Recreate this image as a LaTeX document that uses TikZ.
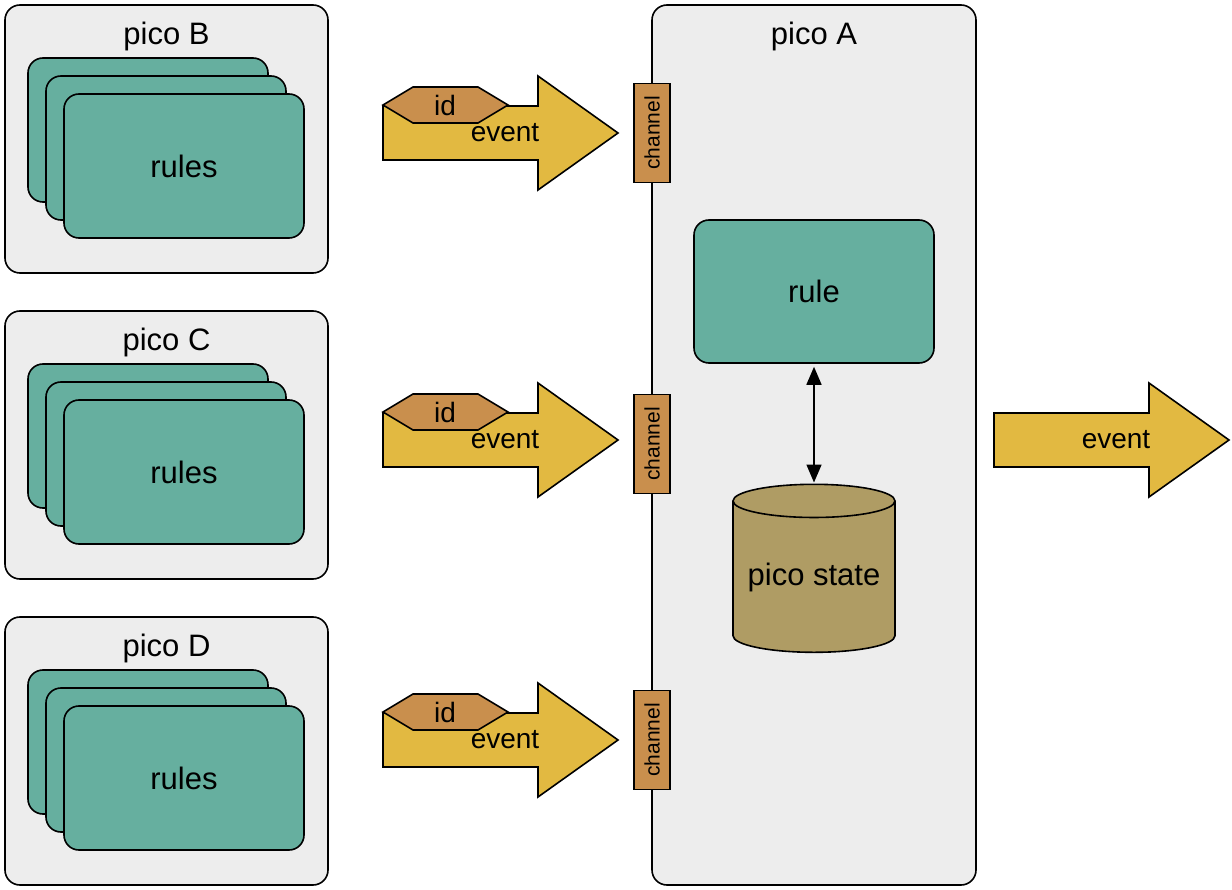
\documentclass[tikz,border=0pt]{standalone}
\usepackage{fontspec}
\setmainfont{Liberation Sans}
\usetikzlibrary{shapes.geometric, arrows.meta}

\definecolor{picogray}{HTML}{EDEDED}
\definecolor{ruleteal}{HTML}{66AF9F}
\definecolor{eventgold}{HTML}{E2B941}
\definecolor{chanbrown}{HTML}{C98F4D}
\definecolor{stateolive}{HTML}{AF9C64}

\tikzset{
  event arrow/.pic={
    \draw[fill=eventgold] (0,-27) -- (155,-27) -- (155,-57) -- (235,0)
      -- (155,57) -- (155,27) -- (0,27) -- cycle;
    \node (-text) [evtext] at (122,0) {event};
  }
}

\begin{document}
\begin{tikzpicture}[x=1pt, y=-1pt, line width=1.6pt,
  every node/.style={font=\fontsize{31}{36}\selectfont},
  evtext/.style={font=\fontsize{28}{32}\selectfont},
  pico/.style={draw, fill=picogray, rounded corners=15pt, inner sep=0pt},
  rules/.style={draw, fill=ruleteal, rounded corners=15pt, inner sep=0pt, minimum width=240pt, minimum height=144pt},
  chan/.style={draw, fill=chanbrown, rotate=90, inner sep=0pt, minimum width=99pt, minimum height=36pt, font=\fontsize{21}{24}\selectfont},
  store/.style={draw, fill=stateolive, cylinder, shape border rotate=90, aspect=0.25, inner sep=0pt, minimum width=162pt, minimum height=168pt}]
\useasboundingbox (0,0) rectangle (1232,890);

% senders
\foreach \p/\dy in {B/0, C/306, D/612} {
  \node (pico\p) [pico, minimum width=323pt, minimum height=268pt] at (166.5,139+\dy) {};
  \node (title\p) at (166.5,36+\dy) {pico \p};
  \node (card\p1) [rules] at (148,130+\dy) {};
  \node (card\p2) [rules] at (166,148+\dy) {};
  \node (card\p3) [rules] at (184,166+\dy) {rules};
}

% receiving pico
\node (picoA) [pico, minimum width=324pt, minimum height=880pt] at (814,445) {};
\node (titleA) at (814,36) {pico A};
\node (rule) [rules, minimum height=143pt] at (814,291.5) {rule};
\node (state) [store] at (814,577) {pico state};
\draw [{Triangle[length=18pt,width=15pt]}-{Triangle[length=18pt,width=15pt]}, shorten <=3pt, shorten >=1pt] (rule) -- (state);

% incoming events
\foreach \y/\c [count=\i] in {133/133, 440/444, 740/740} {
  \pic (ev\i) at (383,\y) {event arrow};
  \draw [fill=chanbrown] (383,\y-28) -- ++(30,-18) -- ++(65,0) -- ++(30,18)
    -- ++(-30,18) -- ++(-65,0) -- cycle;
  \node (id\i) [evtext] at (445,\y-28) {id};
  \node (chan\i) [chan] at (652,\c) {channel};
}

% outgoing event
\pic (evout) at (994,440) {event arrow};
\end{tikzpicture}
\end{document}
